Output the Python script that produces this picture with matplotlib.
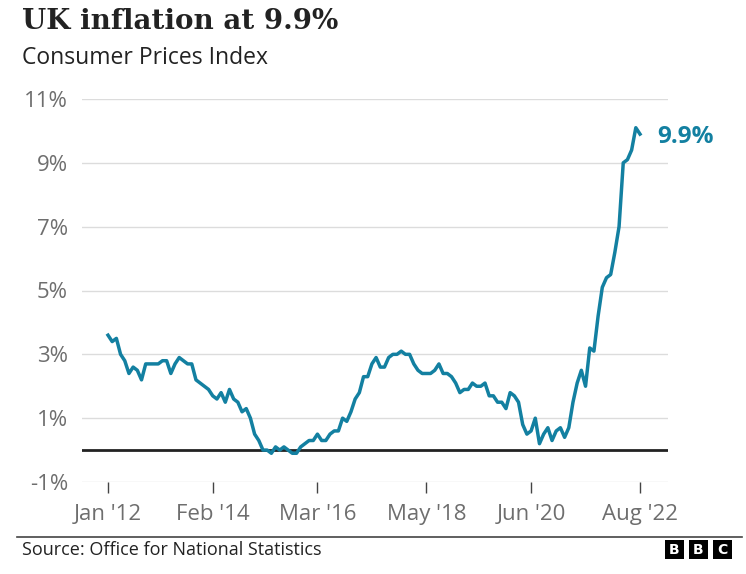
import matplotlib.pyplot as plt
import matplotlib.patches as mpatches

# ── Data: UK CPI annual rate, monthly Jan 2012 – Aug 2022 ────────────────────
cpi_2012 = [3.6, 3.4, 3.5, 3.0, 2.8, 2.4, 2.6, 2.5, 2.2, 2.7, 2.7, 2.7]
cpi_2013 = [2.7, 2.8, 2.8, 2.4, 2.7, 2.9, 2.8, 2.7, 2.7, 2.2, 2.1, 2.0]
cpi_2014 = [1.9, 1.7, 1.6, 1.8, 1.5, 1.9, 1.6, 1.5, 1.2, 1.3, 1.0, 0.5]
cpi_2015 = [0.3, 0.0, 0.0, -0.1, 0.1, 0.0, 0.1, 0.0, -0.1, -0.1, 0.1, 0.2]
cpi_2016 = [0.3, 0.3, 0.5, 0.3, 0.3, 0.5, 0.6, 0.6, 1.0, 0.9, 1.2, 1.6]
cpi_2017 = [1.8, 2.3, 2.3, 2.7, 2.9, 2.6, 2.6, 2.9, 3.0, 3.0, 3.1, 3.0]
cpi_2018 = [3.0, 2.7, 2.5, 2.4, 2.4, 2.4, 2.5, 2.7, 2.4, 2.4, 2.3, 2.1]
cpi_2019 = [1.8, 1.9, 1.9, 2.1, 2.0, 2.0, 2.1, 1.7, 1.7, 1.5, 1.5, 1.3]
cpi_2020 = [1.8, 1.7, 1.5, 0.8, 0.5, 0.6, 1.0, 0.2, 0.5, 0.7, 0.3, 0.6]
cpi_2021 = [0.7, 0.4, 0.7, 1.5, 2.1, 2.5, 2.0, 3.2, 3.1, 4.2, 5.1, 5.4]
cpi_2022 = [5.5, 6.2, 7.0, 9.0, 9.1, 9.4, 10.1, 9.9]

cpi = (cpi_2012 + cpi_2013 + cpi_2014 + cpi_2015 + cpi_2016 + cpi_2017
       + cpi_2018 + cpi_2019 + cpi_2020 + cpi_2021 + cpi_2022)
months = list(range(len(cpi)))

tick_pos = [0, 25, 50, 76, 101, 127]
tick_labels = ["Jan '12", "Feb '14", "Mar '16", "May '18", "Jun '20", "Aug '22"]
y_ticks = [-1, 1, 3, 5, 7, 9, 11]

TEAL = '#1380A1'
GREY = '#6e6e6e'
W, H = 746, 574

fig = plt.figure(figsize=(W / 100, H / 100), dpi=100)
fig.patch.set_facecolor('white')

# axes placed in pixel terms
ax_l, ax_r, ax_t, ax_b = 82, 668, 99, 482
ax = fig.add_axes([ax_l / W, 1 - ax_b / H, (ax_r - ax_l) / W, (ax_b - ax_t) / H])

x_first, x_last = 108, 640   # pixel x of Jan '12 and Aug '22
px_per_month = (x_last - x_first) / 127
ax.set_xlim(-(x_first - ax_l) / px_per_month, 127 + (ax_r - x_last) / px_per_month)
ax.set_ylim(-1, 11)

# ── Grid & zero line ─────────────────────────────────────────────────────────
for yv in y_ticks:
    ax.axhline(yv, color='#dcdcdc', lw=1.0, zorder=1)
ax.axhline(0, color='#222222', lw=2.0, zorder=2)

# ── Line ─────────────────────────────────────────────────────────────────────
ax.plot(months, cpi, color=TEAL, lw=2.5, solid_joinstyle='round', zorder=3)
ax.text(months[-1] + 4.0, cpi[-1] - 0.1, f'{cpi[-1]:.1f}%', color=TEAL,
        fontsize=17.5, fontweight='bold', ha='left', va='center',
        family='Open Sans', clip_on=False)

# ── Axes styling ─────────────────────────────────────────────────────────────
for s in ax.spines.values():
    s.set_visible(False)
ax.set_yticks(y_ticks)
ax.set_yticklabels([f'{v}%' for v in y_ticks])
ax.tick_params(axis='y', length=0, pad=10, labelsize=16, labelcolor=GREY)
ax.set_xticks(tick_pos)
ax.set_xticklabels(tick_labels)
ax.tick_params(axis='x', length=8, width=1, color='#444444', direction='out',
               pad=8, labelsize=16, labelcolor=GREY)
for lab in ax.get_xticklabels() + ax.get_yticklabels():
    lab.set_family('Open Sans')

# ── Titles ───────────────────────────────────────────────────────────────────
fig.text(22 / W, 1 - 8 / H, 'UK inflation at 9.9%', fontsize=20,
         fontweight='bold', family='DejaVu Serif', color='#222222',
         ha='left', va='top')
fig.text(22 / W, 1 - 46 / H, 'Consumer Prices Index', fontsize=16.5,
         family='Open Sans', color='#222222', ha='left', va='top')

# ── Footer ───────────────────────────────────────────────────────────────────
fig.add_artist(plt.Line2D([17 / W, 742 / W], [1 - 537 / H, 1 - 537 / H],
                          color='#444444', lw=1.2))
fig.text(22 / W, 1 - 550 / H, 'Source: Office for National Statistics',
         fontsize=13, family='Open Sans', color='#222222',
         ha='left', va='center')
box = 19
for i, letter in enumerate('BBC'):
    x0 = 665 + i * 24
    fig.add_artist(mpatches.Rectangle((x0 / W, 1 - 559 / H), box / W, box / H,
                                      transform=fig.transFigure,
                                      color='black', lw=0))
    fig.text((x0 + box / 2) / W, 1 - (559 - box / 2) / H, letter,
             fontsize=10, fontweight='bold', color='white',
             ha='center', va='center', family='DejaVu Sans')

plt.savefig('out.png', dpi=100, facecolor='white')
